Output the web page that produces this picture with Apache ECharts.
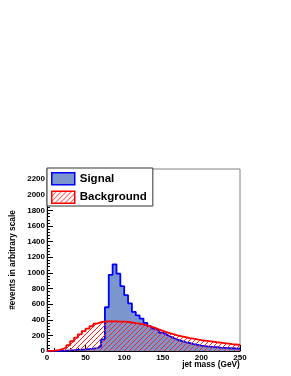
<!DOCTYPE html>
<html>
<head>
<meta charset="utf-8">
<script src="https://cdn.jsdelivr.net/npm/echarts@6/dist/echarts.min.js"></script>
<style>
html,body{margin:0;padding:0;background:#fff;}
#chart{width:291px;height:376px;}
</style>
</head>
<body>
<div id="chart"></div>
<script>
// Bin lower edges (GeV), 5 GeV bins
var binLow = [0,5,10,15,20,25,30,35,40,45,50,55,60,65,70,75,80,85,90,95,100,105,110,115,120,125,130,135,140,145,150,155,160,165,170,175,180,185,190,195,200,205,210,215,220,225,230,235,240,245];
var binHighEnd = 250;
var signalValues = [0,0,1,2,4,7,10,14,17,20,25,30,38,60,150,560,975,1110,990,830,715,610,500,455,415,360,318,287,262,235,210,185,162,143,126,112,100,88,78,70,63,57,52,48,44,41,38,35,32,30];
var backgroundValues = [2,5,10,25,45,75,125,170,214,255,287,317,350,370,377,379,379,378,377,376,372,365,357,350,340,325,312,295,276,258,242,227,212,198,186,176,166,157,148,140,133,126,119,112,106,100,94,88,83,78];
var seriesNames = ['Signal', 'Background'];
var xTicks = [0, 50, 100, 150, 200, 250];
var yTickStep = 200;

function stepData(vals) {
  var d = [];
  for (var i = 0; i < vals.length; i++) d.push([binLow[i], vals[i]]);
  d.push([binHighEnd, vals[vals.length - 1]]);
  return d;
}

// hatch pattern for background
function makeHatch(size) {
  var c = document.createElement('canvas');
  c.width = size; c.height = size;
  var g = c.getContext('2d');
  g.strokeStyle = '#ff2020';
  g.lineWidth = 1;
  g.beginPath();
  g.moveTo(0, size); g.lineTo(size, 0);
  g.moveTo(-size, size); g.lineTo(size, -size);
  g.moveTo(0, 2 * size); g.lineTo(2 * size, 0);
  g.stroke();
  return c;
}
var hatch = { image: makeHatch(5), repeat: 'repeat' };

var FONT = 'Liberation Sans, Arial, Helvetica, sans-serif';
var chart = echarts.init(document.getElementById('chart'), null, { renderer: 'canvas', width: 291, height: 376 });

chart.setOption({
  animation: false,
  backgroundColor: '#ffffff',
  grid: {
    left: 47, right: 51, top: 169, bottom: 25,
    containLabel: false, outerBoundsMode: 'none',
    show: true, borderColor: '#808080', borderWidth: 1, backgroundColor: 'transparent'
  },
  legend: {
    orient: 'vertical',
    left: 47, top: 168,
    padding: [4, 6, 2, 4],
    itemGap: 5,
    itemWidth: 23, itemHeight: 12,
    backgroundColor: '#ffffff',
    borderColor: '#333333', borderWidth: 1,
    textStyle: { fontFamily: FONT, fontWeight: 'bold', fontSize: 11.5, color: '#000', lineHeight: 12 },
    data: [
      { name: seriesNames[0], icon: 'rect', itemStyle: { color: '#7b96cd', borderColor: '#0000ff', borderWidth: 1.5 } },
      { name: seriesNames[1], icon: 'rect', itemStyle: { color: hatch, borderColor: '#ff0000', borderWidth: 1.5 } }
    ]
  },
  xAxis: {
    type: 'value', min: xTicks[0], max: xTicks[xTicks.length - 1], interval: xTicks[1] - xTicks[0],
    name: 'jet mass (GeV)', nameLocation: 'middle', nameGap: 14, nameMoveOverlap: false,
    nameTextStyle: { fontFamily: FONT, fontWeight: 'bold', fontSize: 8.3, color: '#000', align: 'center', verticalAlign: 'middle', padding: [0, 0, 0, 135] },
    axisLine: { lineStyle: { color: '#000', width: 1 } },
    axisTick: { inside: true, length: 6, lineStyle: { color: '#000' } },
    minorTick: { show: true, splitNumber: 5, length: 3, lineStyle: { color: '#000' } },
    axisLabel: { fontFamily: FONT, fontWeight: 'bold', fontSize: 8, color: '#000', margin: 3, formatter: function (v) { return String(v); } },
    splitLine: { show: false }
  },
  yAxis: {
    type: 'value', min: 0, max: 2330, interval: yTickStep,
    name: '#events in arbitrary scale', nameLocation: 'middle', nameGap: 28, nameRotate: 90,
    nameTextStyle: { fontFamily: FONT, fontWeight: 'bold', fontSize: 8.3, color: '#000' },
    axisLine: { show: true, lineStyle: { color: '#000', width: 1 } },
    axisTick: { inside: true, length: 6, lineStyle: { color: '#000' } },
    minorTick: { show: true, splitNumber: 5, length: 3, lineStyle: { color: '#000' } },
    axisLabel: { fontFamily: FONT, fontWeight: 'bold', fontSize: 8, color: '#000', margin: 2, showMaxLabel: false, formatter: function (v) { return String(v); } },
    splitLine: { show: false }
  },
  series: [
    {
      name: seriesNames[0], type: 'line', step: 'end', symbol: 'none', showSymbol: false,
      data: stepData(signalValues),
      lineStyle: { color: '#0000ff', width: 1.8 },
      itemStyle: { color: '#7b96cd' },
      areaStyle: { color: '#7b96cd', opacity: 1 },
      z: 2
    },
    {
      name: seriesNames[1], type: 'line', step: 'end', symbol: 'none', showSymbol: false,
      data: stepData(backgroundValues),
      lineStyle: { color: '#ff0000', width: 1.8 },
      itemStyle: { color: '#ff0000' },
      areaStyle: { color: hatch, opacity: 1 },
      z: 3
    }
  ]
});
</script>
</body>
</html>
